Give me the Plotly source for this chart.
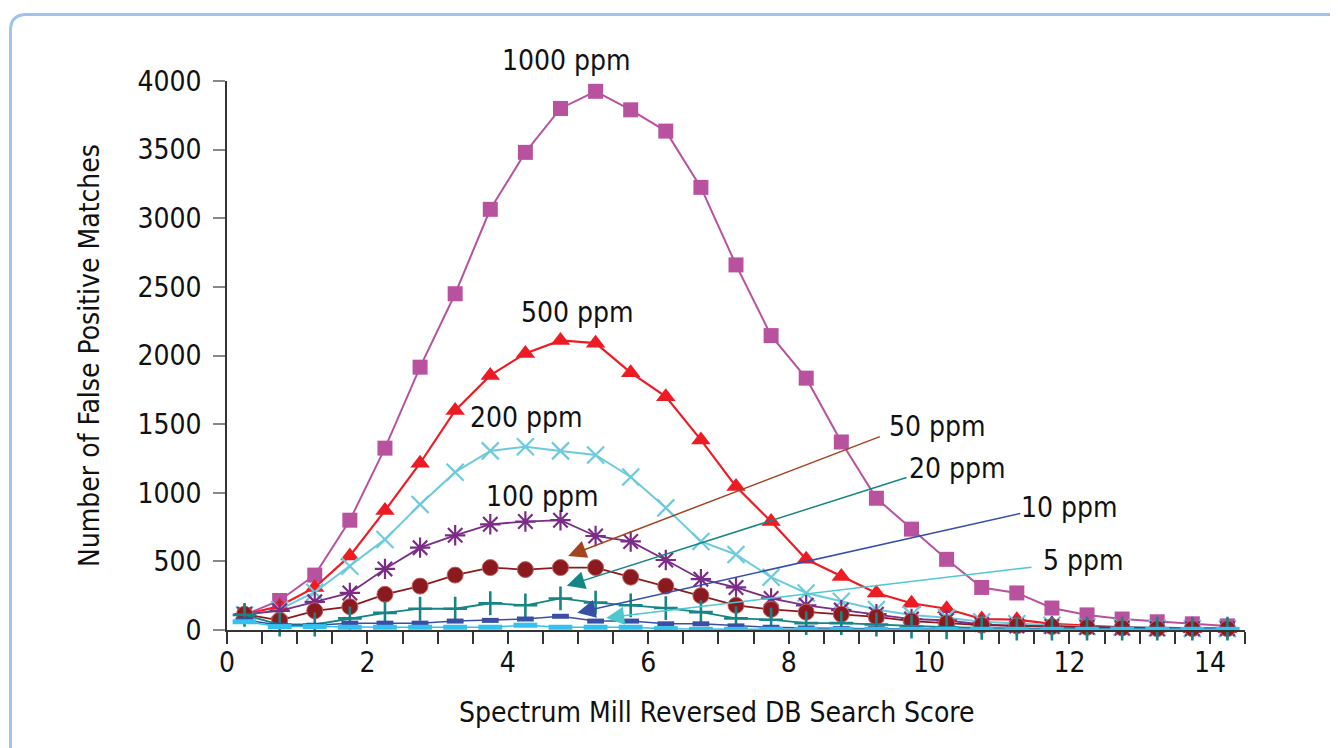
import plotly.graph_objects as go

# ---------------- data ----------------
scores = [0.25 + 0.5 * i for i in range(29)]  # bin centres 0.25 ... 14.25

ppm_1000 = [110, 215, 400, 800, 1325, 1915, 2450, 3065, 3480, 3800, 3925, 3790, 3635, 3225,
            2660, 2145, 1835, 1370, 960, 735, 515, 310, 270, 160, 110, 80, 60, 45, 30]
ppm_500 = [110, 175, 310, 540, 870, 1215, 1600, 1855, 2015, 2110, 2090, 1875, 1700, 1385,
           1045, 790, 515, 390, 270, 195, 155, 80, 75, 45, 30, 20, 15, 10, 10]
ppm_200 = [110, 150, 275, 465, 660, 915, 1150, 1305, 1335, 1305, 1275, 1115, 890, 645,
           550, 385, 270, 210, 150, 110, 90, 60, 45, 35, 25, 20, 15, 10, 10]
ppm_100 = [115, 140, 205, 270, 445, 600, 690, 770, 790, 800, 685, 645, 510, 370,
           310, 230, 180, 145, 115, 80, 70, 40, 30, 25, 20, 15, 10, 10, 10]
ppm_50 = [115, 70, 140, 170, 260, 320, 400, 455, 440, 455, 455, 385, 320, 250,
          180, 150, 130, 115, 95, 65, 50, 35, 30, 25, 20, 15, 10, 10, 10]
ppm_20 = [110, 40, 40, 85, 125, 155, 155, 195, 180, 230, 200, 180, 160, 130,
          85, 75, 50, 50, 40, 25, 20, 15, 10, 10, 10, 10, 10, 10, 10]
ppm_10 = [75, 35, 35, 50, 50, 50, 65, 70, 80, 100, 65, 65, 45, 45,
          30, 20, 15, 10, 10, 8, 5, 5, 5, 5, 5, 5, 5, 5, 5]
ppm_5 = [60, 25, 25, 20, 20, 20, 20, 20, 35, 20, 20, 20, 10, 5,
         5, 5, 5, 5, 5, 5, 5, 5, 5, 5, 5, 5, 5, 5, 5]

series_names = ["1000 ppm", "500 ppm", "200 ppm", "100 ppm", "50 ppm", "20 ppm", "10 ppm", "5 ppm"]

x_ticks = [0, 2, 4, 6, 8, 10, 12, 14]
y_ticks = [0, 500, 1000, 1500, 2000, 2500, 3000, 3500, 4000]
Y_MAX = 4000

X_TITLE = "Spectrum Mill Reversed DB Search Score"
Y_TITLE = "Number of False Positive Matches"

FONT = "Liberation Sans Narrow, DejaVu Sans Condensed, Arial Narrow, sans-serif"
FS = 28

fig = go.Figure()

styles = [
    (ppm_1000, "#b8529e", dict(symbol="square", size=15, color="#b8529e"), 2.0),
    (ppm_500, "#ed1c24", dict(symbol="triangle-up", size=17, color="#ed1c24"), 2.2),
    (ppm_200, "#6ccadc", dict(symbol="x-thin-open", size=17, line=dict(width=2.2, color="#6ccadc")), 2.0),
    (ppm_100, "#7b2c87", dict(symbol="asterisk-open", size=17, line=dict(width=2.2, color="#7b2c87")), 1.8),
    (ppm_50, "#8b1a1e", dict(symbol="circle", size=16, color="#8b1a1e", line=dict(width=1, color="#c06060")), 1.8),
    (ppm_20, "#178585", dict(symbol="cross-thin-open", size=17, line=dict(width=2.6, color="#178585")), 1.8),
    (ppm_10, "#3a4fa3", dict(symbol="line-ew-open", size=12, line=dict(width=5, color="#3a4fa3")), 1.5),
    (ppm_5, "#33c1ef", dict(symbol="line-ew-open", size=17, line=dict(width=5, color="#33c1ef")), 1.5),
]

for name, (vals, col, mk, lw) in zip(series_names, styles):
    fig.add_trace(go.Scatter(
        x=scores, y=vals, mode="lines+markers", name=name,
        line=dict(color=col, width=lw), marker=mk, cliponaxis=False,
        showlegend=False))

# curve labels (y given in data units; placed via paper fraction so out-of-range works)
labels = [
    ("1000 ppm", 4.83, 4150),
    ("500 ppm", 4.99, 2315),
    ("200 ppm", 4.27, 1550),
    ("100 ppm", 4.49, 975),
]
for t, x, y in labels:
    fig.add_annotation(x=x, y=y / Y_MAX, xref="x", yref="paper", text=t, showarrow=False,
                       xanchor="center", yanchor="middle",
                       font=dict(family=FONT, size=FS, color="#111"))

# arrow labels: (text, label x, label y, tail x, tail y, head x, head y, colour)
arrows = [
    ("50 ppm", 10.12, 1480, 9.32, 1413, 4.86, 540, "#a4441f"),
    ("20 ppm", 10.40, 1180, 9.70, 1115, 4.84, 322, "#168585"),
    ("10 ppm", 12.00, 890, 11.32, 852, 4.99, 125, "#3550a6"),
    ("5 ppm", 12.20, 510, 11.48, 459, 5.40, 88, "#4cc8cf"),
]
for t, lx, ly, tx, ty, hx, hy, col in arrows:
    fig.add_annotation(x=hx, y=hy, ax=tx, ay=ty, xref="x", yref="y", axref="x", ayref="y",
                       text="", showarrow=True, arrowhead=2, arrowsize=2.4, arrowwidth=1.5,
                       arrowcolor=col)
    fig.add_annotation(x=lx, y=ly / Y_MAX, xref="x", yref="paper", text=t, showarrow=False,
                       xanchor="center", yanchor="middle",
                       font=dict(family=FONT, size=FS, color="#111"))

# page offset (browser body margin) and plot area in page pixels
OFF = 8
L, T, R, B = 227, 81, 1245, 630
W_FIG, H_FIG = 1338 - OFF, 748 - OFF
W_PLOT, H_PLOT = R - L, B - T
def px(xp):
    return (xp - L) / W_PLOT
def py(yp):
    return (B - yp) / H_PLOT

# x-axis title as annotation (centred slightly left of the plot centre, as in the original)
fig.add_annotation(x=px(717), y=py(712), xref="paper", yref="paper", text=X_TITLE,
                   showarrow=False, xanchor="center", yanchor="middle",
                   font=dict(family=FONT, size=FS, color="#111"))

r = 16
path = (f"M {px(10.5)},{py(760)} L {px(10.5)},{py(14.5 + r)} "
        f"Q {px(10.5)},{py(14.5)} {px(10.5 + r)},{py(14.5)} L {px(1360)},{py(14.5)}")
fig.add_shape(type="path", path=path, xref="paper", yref="paper",
              line=dict(color="#9fc3ea", width=3))

fig.update_layout(
    width=W_FIG, height=H_FIG,
    margin=dict(l=L - OFF, r=W_FIG - (R - OFF), t=T - OFF, b=H_FIG - (B - OFF)),
    paper_bgcolor="white", plot_bgcolor="white",
    font=dict(family=FONT, size=FS, color="#111"),
    xaxis=dict(
        range=[0, 14.5], tickvals=x_ticks, ticktext=[str(v) for v in x_ticks],
        showgrid=False, zeroline=False, showline=True, linecolor="#333", linewidth=1.5,
        ticks="outside", ticklen=12, tickwidth=1.5, tickcolor="#333",
        ticklabelstandoff=-5,
        minor=dict(dtick=0.5, tick0=0, ticks="outside", ticklen=12, tickwidth=1.5, tickcolor="#333"),
        tickfont=dict(family=FONT, size=FS, color="#111"),
    ),
    yaxis=dict(
        range=[0, Y_MAX], tickvals=y_ticks, ticktext=[str(v) for v in y_ticks],
        showgrid=False, zeroline=False, showline=True, linecolor="#333", linewidth=1.5,
        ticks="outside", ticklen=12, tickwidth=1.5, tickcolor="#888",
        ticklabelstandoff=6,
        tickfont=dict(family=FONT, size=FS, color="#111"),
        title=dict(text=Y_TITLE, standoff=30,
                   font=dict(family=FONT, size=FS, color="#111")),
    ),
)

fig.write_html("out.html")
